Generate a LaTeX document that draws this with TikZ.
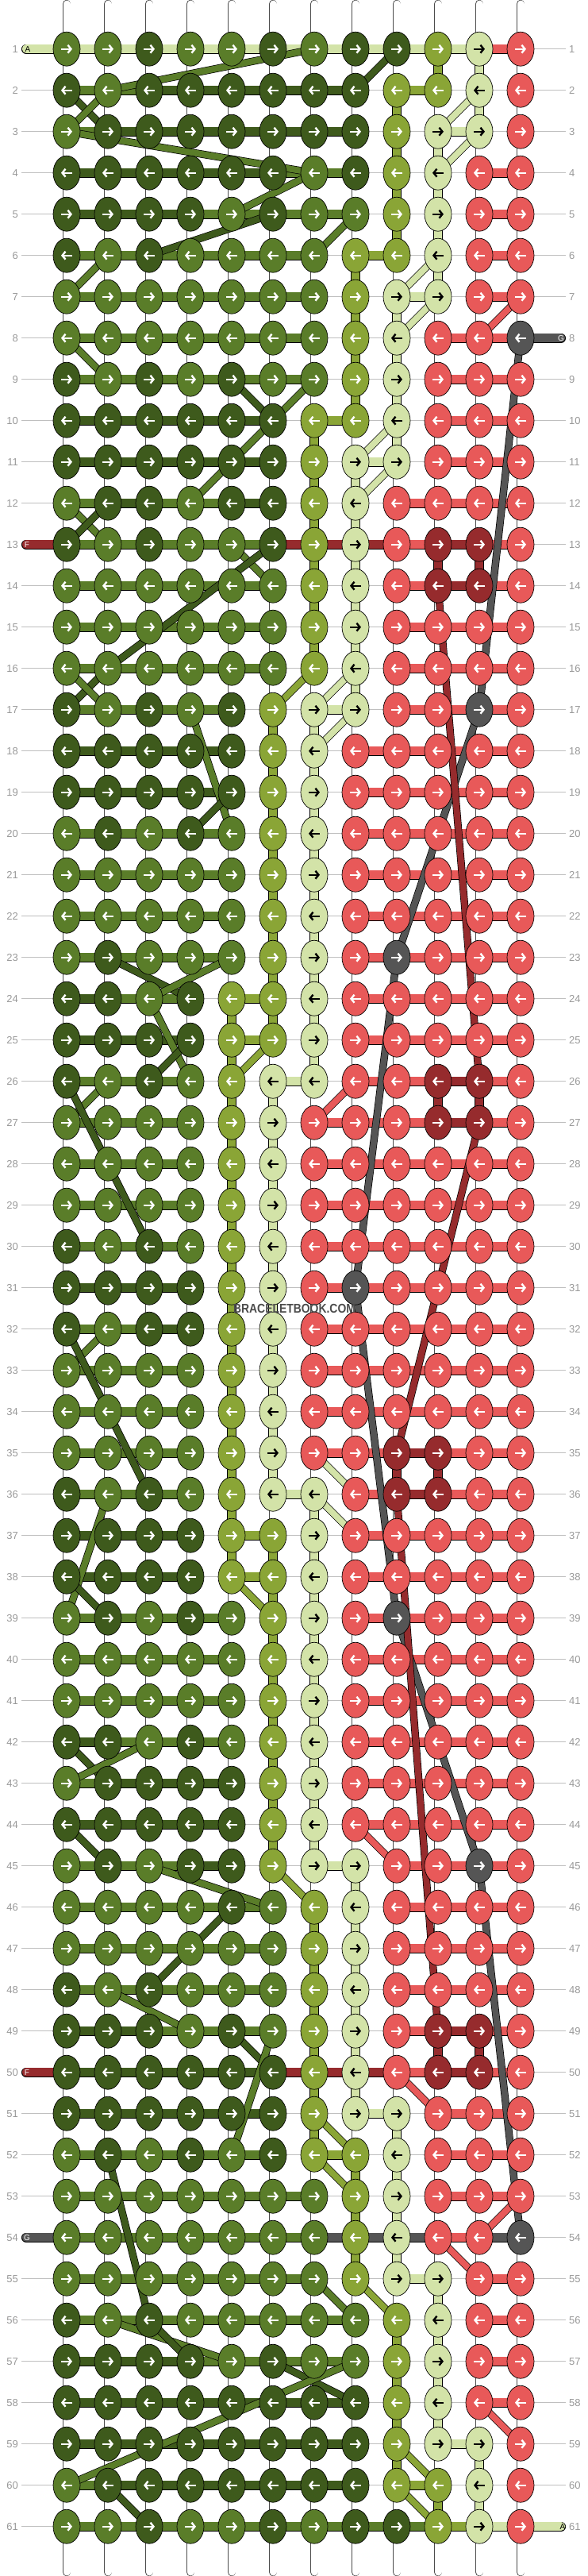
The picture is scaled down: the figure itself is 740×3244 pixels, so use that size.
\documentclass[tikz,border=0pt]{standalone}
\usepackage{fontspec}
\setmainfont{Liberation Sans}
\usetikzlibrary{shapes.geometric,arrows.meta,positioning}

\definecolor{kD}{HTML}{3E5A1C}
\definecolor{kM}{HTML}{5A7D29}
\definecolor{kO}{HTML}{8AA536}
\definecolor{kP}{HTML}{D3E3A8}
\definecolor{kR}{HTML}{E85959}
\definecolor{kX}{HTML}{962B2D}
\definecolor{kG}{HTML}{555555}
% arrow colour on each knot colour
\colorlet{aD}{white}\colorlet{aM}{white}\colorlet{aO}{white}\colorlet{aP}{black}
\colorlet{aR}{white}\colorlet{aX}{white}\colorlet{aG}{white}

\pgfdeclarelayer{tubes}
\pgfdeclarelayer{bands}
\pgfdeclarelayer{diag}
\pgfsetlayers{tubes,bands,diag,main}

% band between two neighbouring knots of a row
\def\bandof#1#2#3{\expandafter\def\csname bnd#1#2\endcsname{#3}}
\bandof DD{kD}\bandof DM{kM}\bandof MD{kM}\bandof MM{kM}
\bandof OO{kO}\bandof PP{kP}\bandof RR{kR}\bandof XX{kX}
\bandof RX{kR}\bandof XR{kR}\bandof RG{kR}\bandof GR{kR}
% stub between two knots of a column
\def\stubof#1#2#3{\expandafter\def\csname stb#1#2\endcsname{#3}}
\stubof OO{kO}\stubof PP{kP}\stubof XX{kX}

\newcommand{\knotrows}{%
{M,M,D,M,M,D,M,D,D,O,P,R},{D,M,D,D,D,D,D,D,O,O,P,R},{M,D,D,D,D,D,D,D,O,P,P,R},%
{D,D,D,D,D,D,M,D,O,P,R,R},{D,D,D,D,M,D,M,M,O,P,R,R},{D,M,D,M,M,M,M,O,O,P,R,R},%
{M,M,M,M,M,M,M,O,P,P,R,R},{M,M,M,M,M,M,M,O,P,R,R,G},{D,M,D,M,D,M,M,O,P,R,R,R},%
{D,D,D,D,D,D,O,O,P,R,R,R},{D,D,D,D,D,D,O,P,P,R,R,R},{M,D,D,M,D,D,O,P,R,R,R,R},%
{D,M,D,M,M,D,O,P,R,X,X,R},{M,M,M,M,M,M,O,P,R,X,X,R},{M,M,M,M,M,M,O,P,R,R,R,R},%
{M,M,M,M,M,M,O,P,R,R,R,R},{D,M,D,M,D,O,P,P,R,R,G,R},{D,D,D,D,D,O,P,R,R,R,R,R},%
{D,D,D,D,D,O,P,R,R,R,R,R},{M,D,M,D,M,O,P,R,R,R,R,R},{M,M,M,M,M,O,P,R,R,R,R,R},%
{M,M,M,M,M,O,P,R,R,R,R,R},{M,D,M,M,M,O,P,R,G,R,R,R},{D,D,M,D,O,O,P,R,R,R,R,R},%
{D,D,D,D,O,O,P,R,R,R,R,R},{D,M,D,M,O,P,P,R,R,X,X,R},{M,M,M,M,O,P,R,R,R,X,X,R},%
{M,M,M,M,O,P,R,R,R,R,R,R},{M,M,M,M,O,P,R,R,R,R,R,R},{D,M,D,M,O,P,R,R,R,R,R,R},%
{D,D,D,D,O,P,R,G,R,R,R,R},{D,M,D,D,O,P,R,R,R,R,R,R},{M,M,M,M,O,P,R,R,R,R,R,R},%
{M,M,M,M,O,P,R,R,R,R,R,R},{M,M,M,M,O,P,R,R,X,X,R,R},{D,M,D,M,O,P,P,R,X,X,R,R},%
{D,D,D,D,O,O,P,R,R,R,R,R},{D,D,D,D,O,O,P,R,R,R,R,R},{M,D,M,D,M,O,P,R,G,R,R,R},%
{M,M,M,M,M,O,P,R,R,R,R,R},{M,M,M,M,M,O,P,R,R,R,R,R},{D,D,M,D,M,O,P,R,R,R,R,R},%
{M,D,D,D,D,O,P,R,R,R,R,R},{D,D,D,D,D,O,P,R,R,R,R,R},{M,D,M,D,D,O,P,P,R,R,G,R},%
{M,M,M,M,D,M,O,P,R,R,R,R},{M,M,M,M,M,M,O,P,R,R,R,R},{D,M,D,M,M,M,O,P,R,R,R,R},%
{D,D,D,M,D,M,O,P,R,X,X,R},{D,D,D,D,D,D,O,P,R,X,X,R},{D,D,D,D,D,D,O,P,P,R,R,R},%
{M,D,M,D,M,D,O,O,P,R,R,R},{M,M,M,M,M,M,M,O,P,R,R,R},{M,M,M,M,M,M,M,O,P,R,R,G},%
{M,M,M,M,M,M,M,O,P,P,R,R},{D,M,D,M,M,M,M,M,O,P,R,R},{D,D,D,D,M,D,M,M,O,P,R,R},%
{D,D,D,D,D,D,D,D,O,P,R,R},{D,D,D,D,D,D,D,D,O,P,P,R},{M,D,D,D,D,D,D,D,O,O,P,R},%
{M,M,D,M,M,D,M,D,D,O,P,R}}

\begin{document}
\begin{tikzpicture}[x=1pt,y=-1pt,
  knot/.style={ellipse, draw=black, line width=0.7pt, minimum width=34pt, minimum height=43pt, inner sep=0pt},
  arr/.style={line width=2.4pt, -{Straight Barb[length=4pt,width=10pt]}},
  band/.style={draw=black, line width=0.8pt, double=#1, double distance=10.5pt},
  thread/.style={draw=black, line width=0.7pt, double=#1, double distance=8pt},
  string/.style={draw=black!70, line width=0.8pt, double=white, double distance=9pt, line cap=round},
  rowline/.style={draw=black!25, line width=1pt},
  rowlabel/.style={text=black!40, font=\fontsize{13}{13}\selectfont, inner sep=0pt},
  tag/.style={font=\fontsize{10}{10}\selectfont, inner sep=0pt}
]
\useasboundingbox (0,0) rectangle (740,3244);
\begin{pgfonlayer}{tubes}
  \fill[white] (0,0) rectangle (740,3244);
\end{pgfonlayer}

% strings from top to bottom
\foreach \kk in {1,...,12}{
  \pgfmathsetmacro\xx{32+52*\kk}
  \coordinate (top-\kk) at (\xx,5);
  \coordinate (bot-\kk) at (\xx,3239);
  \begin{pgfonlayer}{tubes}
    \draw[string] (top-\kk) -- (bot-\kk);
  \end{pgfonlayer}
}

% knots, row by row
\foreach \cols [count=\rr] in \knotrows {
  \pgfmathsetmacro\yy{9.7+52*\rr}
  \node[rowlabel, anchor=east] (lab-l-\rr) at (23,\yy) {\rr};
  \node[rowlabel, anchor=west] (lab-r-\rr) at (717,\yy) {\rr};
  \begin{pgfonlayer}{tubes}
    \draw[rowline] ([xshift=4pt]lab-l-\rr.east) -- ([xshift=-4pt]lab-r-\rr.west);
  \end{pgfonlayer}
  \foreach \kc [count=\kk] in \cols {
    \pgfmathsetmacro\xx{32+52*\kk}
    \node[knot, fill=k\kc] (k-\rr-\kk) at (\xx,\yy) {};
    \ifodd\rr\relax
      \draw[arr, draw=a\kc] ([xshift=-7pt]k-\rr-\kk.center) -- ([xshift=7pt]k-\rr-\kk.center);
    \else
      \draw[arr, draw=a\kc] ([xshift=7pt]k-\rr-\kk.center) -- ([xshift=-7pt]k-\rr-\kk.center);
    \fi
    \expandafter\xdef\csname knotcol-\rr-\kk\endcsname{\kc}
  }
}

\begin{pgfonlayer}{bands}
% bands along the rows
\foreach \rr in {1,...,61}{
  \foreach \kk [evaluate=\kk as \pk using int(\kk-1)] in {2,...,12}{
    \edef\cA{\csname knotcol-\rr-\pk\endcsname}%
    \edef\cB{\csname knotcol-\rr-\kk\endcsname}%
    \ifcsname bnd\cA\cB\endcsname
      \edef\bc{\csname bnd\cA\cB\endcsname}%
      \draw[band=\bc] (k-\rr-\pk.center) -- (k-\rr-\kk.center);
    \fi
  }
}
% stubs down the columns
\foreach \rr [evaluate=\rr as \nr using int(\rr+1)] in {1,...,60}{
  \foreach \kk in {1,...,12}{
    \edef\cA{\csname knotcol-\rr-\kk\endcsname}%
    \edef\cB{\csname knotcol-\nr-\kk\endcsname}%
    \ifcsname stb\cA\cB\endcsname
      \edef\bc{\csname stb\cA\cB\endcsname}%
      \draw[band=\bc] (k-\rr-\kk.center) -- (k-\nr-\kk.center);
    \fi
  }
}
% rows worked with a loose thread
\draw[band=kP] (k-1-1.center) -- (k-1-11.center);
\draw[band=kR] (k-1-11.center) -- (k-1-12.center);
\draw[band=kX] (k-13-6.center) -- (k-13-9.center);
\draw[band=kX] (k-50-6.center) -- (k-50-9.center);
\draw[band=kG] (k-54-7.center) -- (k-54-10.center);
\draw[band=kG] (k-54-11.center) -- (k-54-12.center);
\draw[band=kM] (k-61-1.center) -- (k-61-10.center);
\draw[band=kO] (k-61-10.center) -- (k-61-11.center);
\draw[band=kP] (k-61-11.center) -- (k-61-12.center);

% thread ends
\coordinate (endA) at ([xshift=10pt]lab-l-1.east);
\coordinate (endG) at ([xshift=-10pt]lab-r-8.west);
\coordinate (endF) at ([xshift=10pt]lab-l-13.east);
\coordinate (endF2) at ([xshift=10pt]lab-l-50.east);
\coordinate (endG2) at ([xshift=10pt]lab-l-54.east);
\coordinate (endA2) at ([xshift=-10pt]lab-r-61.west);
\draw[band=kP, line cap=round] (endA) -- (k-1-1.center);
\draw[band=kG, line cap=round] (endG) -- (k-8-12.center);
\draw[band=kX, line cap=round] (endF) -- (k-13-1.center);
\draw[band=kX, line cap=round] (endF2) -- (k-50-1.center);
\draw[band=kG, line cap=round] (endG2) -- (k-54-1.center);
\draw[band=kP, line cap=round] (endA2) -- (k-61-12.center);
\end{pgfonlayer}

\node[tag, text=black] (tagA) at ([xshift=2pt]endA) {A};
\node[tag, text=white] (tagG) at (endG) {G};
\node[tag, text=white] (tagF) at ([xshift=1pt]endF) {F};
\node[tag, text=white] (tagF2) at ([xshift=1pt]endF2) {F};
\node[tag, text=white] (tagG2) at ([xshift=1pt]endG2) {G};
\node[tag, text=black] (tagA2) at ([xshift=2pt]endA2) {A};

% threads that change place
\begin{pgfonlayer}{diag}
\foreach \ra/\ca/\rb/\cb/\cl in {1/9/2/8/D, 2/2/1/7/M, 2/1/3/2/D, 2/2/3/1/M, 3/1/4/7/M,
  2/11/3/10/P, 3/11/4/10/P, 4/7/5/5/M, 5/8/6/7/M, 5/6/6/3/D, 6/2/7/1/M, 6/10/7/9/P,
  7/10/8/9/P, 7/12/8/11/R, 8/1/9/2/M, 9/5/10/6/D, 9/7/12/4/M, 10/9/11/8/P, 11/9/12/8/P,
  12/1/13/2/M, 12/2/13/1/D, 13/5/14/6/M, 13/6/16/2/D, 16/2/17/1/D, 16/1/17/2/M,
  16/7/17/6/O, 16/8/17/7/P, 17/8/18/7/P, 17/4/20/5/M, 19/5/20/4/D, 23/2/24/4/D,
  23/5/24/3/M, 24/3/26/4/M, 25/4/26/3/D, 25/6/26/5/O, 26/2/27/1/M, 26/1/30/3/D,
  26/8/27/7/R, 32/2/33/1/M, 32/1/36/3/D, 35/7/36/8/P, 36/7/37/8/P, 36/2/39/1/M,
  38/1/39/2/D, 38/5/39/6/O, 42/1/43/2/D, 42/3/43/1/M, 44/1/45/2/D, 44/8/45/9/R,
  45/3/46/6/M, 45/6/46/7/O, 46/5/48/3/D, 48/2/49/4/M, 49/5/50/6/D, 49/6/52/5/M,
  50/9/51/10/R, 51/7/52/8/O, 52/7/53/8/O, 52/2/56/3/D, 53/12/54/11/R, 54/10/55/11/R,
  55/7/56/8/M, 55/8/56/9/O, 56/2/57/5/M, 56/3/57/4/D, 57/6/58/8/D, 57/8/60/1/M,
  58/11/59/12/R, 59/9/60/10/O, 60/9/61/10/O, 60/2/61/3/D}
  \draw[thread=k\cl] (k-\ra-\ca.center) -- (k-\rb-\cb.center);
\draw[thread=kG, line join=round] (k-8-12.center) -- (k-17-11.center) -- (k-23-9.center)
  -- (k-31-8.center) -- (k-39-9.center) -- (k-45-11.center) -- (k-54-12.center);
\draw[thread=kX] (k-14-10.center) -- (k-26-11.center);
\draw[thread=kX] (k-27-11.center) -- (k-35-9.center);
\draw[thread=kX] (k-36-9.center) -- (k-49-10.center);
\end{pgfonlayer}

\node[font=\bfseries\fontsize{16}{16}\selectfont, text=black!70, xscale=0.87] (mark) at (371,1648) {BRACELETBOOK.COM};
\end{tikzpicture}
\end{document}
